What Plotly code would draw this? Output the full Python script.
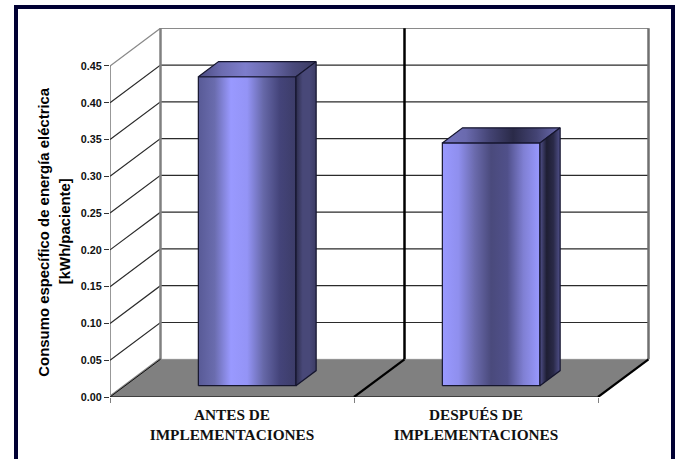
import plotly.graph_objects as go

# Specific electricity consumption before and after the measures
categories = ["ANTES DE<br>IMPLEMENTACIONES", "DESPUÉS DE<br>IMPLEMENTACIONES"]
values = [0.42, 0.33]
value_ticks = [0.00, 0.05, 0.10, 0.15, 0.20, 0.25, 0.30, 0.35, 0.40, 0.45]
y_title_lines = ["Consumo específico de energía eléctrica", "[kWh/paciente]"]

# Figure geometry, in pixels
W, H = 678, 459
LEFT, RIGHT, TOP, BASE = 110.0, 650.0, 28.0, 396.7
PX_PER_CAT, PX_PER_VALUE = 244.0, 735.0

# Oblique depth offset, in axis units
DEPTH_X = 50.5 / PX_PER_CAT
DEPTH_Y = 37.7 / PX_PER_VALUE


def proj(cat, value, depth=0.0):
    """Place a (category, value, depth) point on the flat axes."""
    return cat + depth * DEPTH_X, value + depth * DEPTH_Y


def polyline(points, color, width, fill=None, gradient=None):
    xs, ys = zip(*points)
    trace = dict(x=list(xs), y=list(ys), mode="lines", hoverinfo="skip",
                 line=dict(color=color, width=width), cliponaxis=False,
                 showlegend=False)
    if fill:
        trace.update(fill="toself", fillcolor=fill)
    if gradient:
        stops = [[i / (len(gradient) - 1), c] for i, c in enumerate(gradient)]
        trace.update(fill="toself",
                     fillgradient=dict(type="horizontal", colorscale=stops))
    return go.Scatter(**trace)


fig = go.Figure()
top_value = value_ticks[-1]

# Floor
fig.add_trace(polyline([proj(0, 0), proj(2, 0), proj(2, 0, 1), proj(0, 0, 1), proj(0, 0)],
                       "#808080", 0.5, fill="#808080"))

# Side wall and back wall grid lines
for v in value_ticks[1:]:
    is_top = v == top_value
    fig.add_trace(polyline([proj(0, v), proj(0, v, 1), proj(2, v, 1)],
                           "#8a8a8a" if is_top else "#2b2b2b", 1.3 if is_top else 1.2))

# Back wall verticals
fig.add_trace(polyline([proj(0, 0, 1), proj(0, top_value, 1)], "#808080", 2.5))
fig.add_trace(polyline([proj(1, 0, 1), proj(1, top_value, 1)], "#000000", 2.5))
fig.add_trace(polyline([proj(2, 0, 1), proj(2, top_value, 1)], "#707070", 2.5))

# Floor edges
fig.add_trace(polyline([proj(0, 0, 0.03), proj(0, 0, 1)], "#808080", 3))
fig.add_trace(polyline([proj(0, 0), proj(0, 0, 1)], "#111111", 1))
fig.add_trace(polyline([proj(1, 0), proj(1, 0, 1)], "#000000", 2.2))
fig.add_trace(polyline([proj(2, 0), proj(2, 0, 1)], "#000000", 2.2))
fig.add_trace(polyline([proj(0, 0), proj(2, 0)], "#000000", 1.2))

# Left axis line
fig.add_trace(polyline([proj(0, 0), proj(0, top_value)], "#333333", 1))

# Column faces: front, top and side gradients per category
face_front = [
    ["#585a96", "#6a6cae", "#9999ff", "#9494f6", "#6668a8", "#44447a", "#3c3c68"],
    ["#9999ff", "#8f8fee", "#6a6aac", "#4a4a7c", "#50508a", "#8080d4", "#9999ff"],
]
face_top = [
    ["#4a4a80", "#6c6cb0", "#7d7dcc", "#6a6aac", "#4a4a7c", "#3a3a60"],
    ["#7474c0", "#6a6aae", "#444474", "#2a2a48", "#444474", "#6e6eb4"],
]
face_side = [
    ["#2c2c4c", "#484878", "#484878", "#3c3c64"],
    ["#50508a", "#1e1e33", "#2a2a48", "#50508a"],
]
BAR_LEFT, BAR_RIGHT = 0.3, 0.7
EDGE = "#15152e"

for i, v in enumerate(values):
    x0, x1 = i + BAR_LEFT, i + BAR_RIGHT
    d0, d1 = BAR_LEFT, BAR_RIGHT
    fig.add_trace(polyline(
        [proj(x0, 0, d0), proj(x1, 0, d0), proj(x1, v, d0), proj(x0, v, d0), proj(x0, 0, d0)],
        EDGE, 1.2, gradient=face_front[i]))
    fig.add_trace(polyline(
        [proj(x0, v, d0), proj(x1, v, d0), proj(x1, v, d1), proj(x0, v, d1), proj(x0, v, d0)],
        EDGE, 1.2, gradient=face_top[i]))
    fig.add_trace(polyline(
        [proj(x1, 0, d0), proj(x1, 0, d1), proj(x1, v, d1), proj(x1, v, d0), proj(x1, 0, d0)],
        EDGE, 1.2, gradient=face_side[i]))


def paper_x(px):
    return (px - LEFT) / (RIGHT - LEFT)


def paper_y(py):
    return (BASE - py) / (BASE - TOP)


# Dark frame, open at the bottom
FRAME = "#000033"
frame_rects = [(14, 5, 18, H), (14, 5, 675, 9), (671, 5, 675, H)]
shapes = [dict(type="rect", xref="paper", yref="paper", layer="above",
               x0=paper_x(a), x1=paper_x(c), y0=paper_y(b), y1=paper_y(d),
               fillcolor=FRAME, line=dict(width=0))
          for a, b, c, d in frame_rects]

SANS = "Liberation Sans"
annotations = [
    dict(text=f"<b>{line}</b>", textangle=-90, xref="paper", yref="paper",
         x=paper_x(px), y=paper_y(231.5), showarrow=False, xanchor="center", yanchor="middle",
         font=dict(family=SANS, size=14.9, color="#000000"))
    for line, px in zip(y_title_lines, [44, 64.5])
]

fig.update_layout(
    width=W, height=H,
    margin=dict(l=LEFT, r=W - RIGHT, t=TOP, b=H - BASE, pad=0),
    paper_bgcolor="#ffffff", plot_bgcolor="#ffffff",
    shapes=shapes, annotations=annotations, showlegend=False,
    xaxis=dict(
        range=[0, (RIGHT - LEFT) / PX_PER_CAT], showgrid=False, zeroline=False,
        tickmode="array", tickvals=[0.5, 1.5],
        ticktext=[f"<b>{c.replace('<br>', '</b><br><b>')}</b>" for c in categories],
        ticks="", ticklabelstandoff=7,
        tickfont=dict(family="Liberation Serif", size=15.3, color="#111111"),
        minor=dict(tickmode="array", tickvals=[0, 1, 2], ticks="outside", ticklen=5,
                   tickcolor="#808080", tickwidth=1, showgrid=False),
        fixedrange=True,
    ),
    yaxis=dict(
        range=[0, (BASE - TOP) / PX_PER_VALUE], showgrid=False, zeroline=False,
        tickmode="array", tickvals=value_ticks, ticktext=[f"<b>{t:.2f}</b>" for t in value_ticks],
        ticks="outside", ticklen=5, tickcolor="#333333", tickwidth=1,
        tickfont=dict(family=SANS, size=10.8, color="#111111"),
        fixedrange=True,
    ),
)

fig.write_html("out.html", config=dict(displayModeBar=False))
